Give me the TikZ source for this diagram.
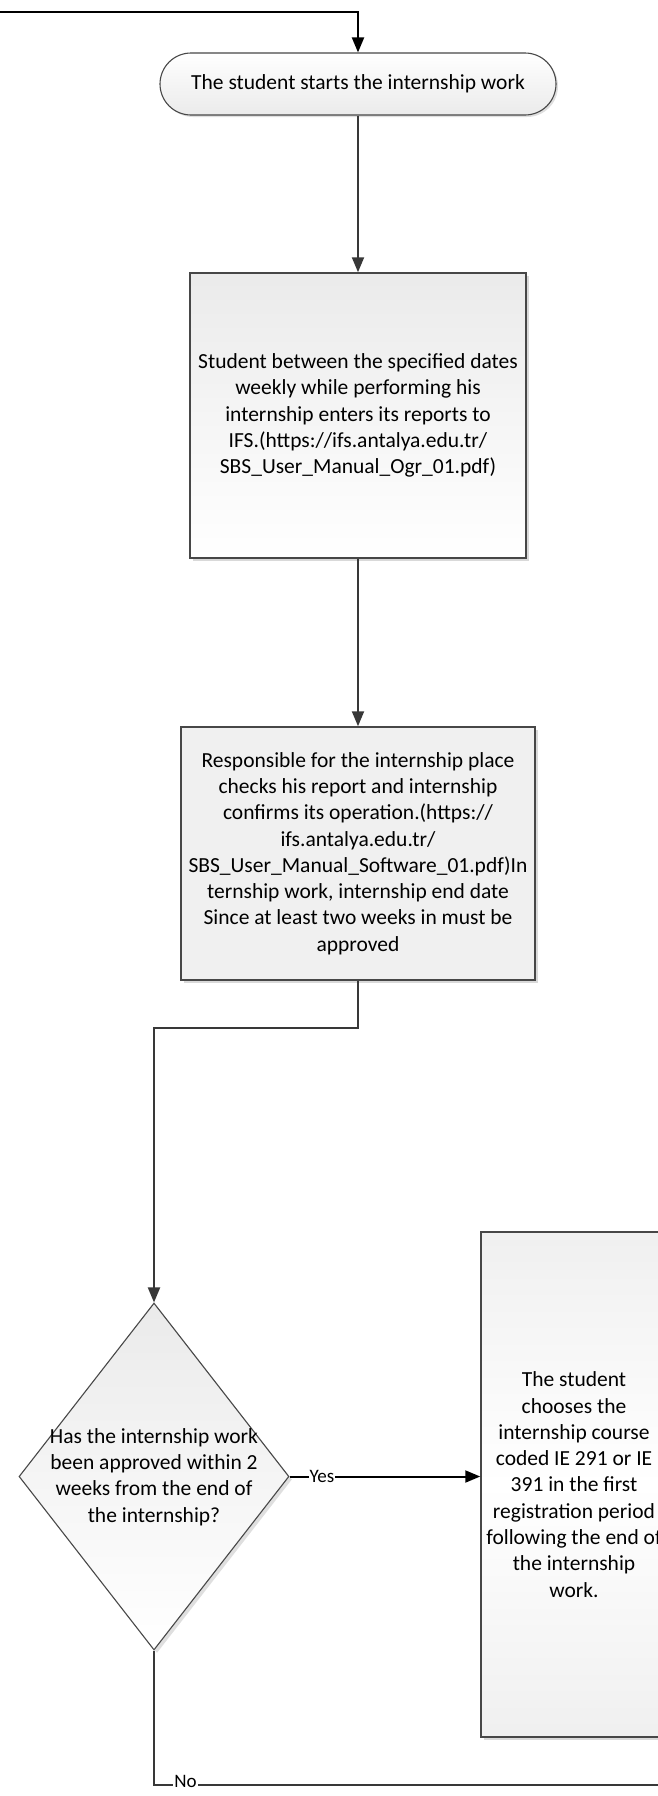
\documentclass[tikz,border=0pt]{standalone}
\usepackage{fontspec}
\setmainfont{Carlito}
\usetikzlibrary{shapes.geometric,arrows.meta,shadows}
\begin{document}
\begin{tikzpicture}[x=1pt,y=-1pt,
  txt/.style={align=center, inner sep=0pt, font=\fontsize{21.5}{26.3}\selectfont},
  procbox/.style={txt, rectangle, draw=black!72, line width=1.5pt,
     drop shadow={shadow xshift=3pt,shadow yshift=-3pt,fill=black!25,opacity=0.6}},
  termbox/.style={txt, rectangle, rounded corners=31pt, draw=black!72, line width=1.1pt,
     minimum width=396pt, minimum height=62pt, top color=white, bottom color=black!8,
     drop shadow={shadow xshift=2pt,shadow yshift=-2pt,fill=black!25,opacity=0.5}},
  decbox/.style={diamond, draw=black!72, line width=1.1pt, inner sep=0pt,
     minimum width=270pt, minimum height=347pt, top color=black!8, bottom color=white,
     drop shadow={shadow xshift=3pt,shadow yshift=-3pt,fill=black!25,opacity=0.5}},
  conn/.style={draw=black!78, line width=2pt, -{Triangle[length=15pt,width=12pt]}},
  line/.style={draw=black!78, line width=2pt},
  lab/.style={fill=white, inner sep=1pt, font=\fontsize{19}{21}\selectfont}
]
\useasboundingbox (0,0) rectangle (658,1796);

\coordinate (start) at (-10,11.5);
\node[termbox] (t) at (358,84) {The student starts the internship work};

\node[procbox, minimum width=336pt, minimum height=285pt, top color=black!8, bottom color=white] (b1) at (358,415.5)
 {Student between the specified dates\\ weekly while performing his\\ internship enters its reports to\\ IFS.(https://ifs.antalya.edu.tr/\\ SBS\_User\_Manual\_Ogr\_01.pdf)};

\node[procbox, minimum width=354pt, minimum height=253pt, top color=black!6, bottom color=black!6] (b2) at (358,853.5)
 {Responsible for the internship place\\ checks his report and internship\\ confirms its operation.(https://\\ ifs.antalya.edu.tr/\\ SBS\_User\_Manual\_Software\_01.pdf)In\\ ternship work, internship end date\\ Since at least two weeks in must be\\ approved};

\node[decbox] (d) at (154,1476.5) {};
\node[txt] (dt) at (154,1477) {Has the internship work\\ been approved within 2\\ weeks from the end of\\ the internship?};

\node[procbox, minimum width=186pt, minimum height=505pt, top color=black!6, bottom color=black!6, middle color=white] (b3) at (574,1484.5)
 {The student\\ chooses the\\ internship course\\ coded IE 291 or IE\\ 391 in the first\\ registration period\\ following the end of\\ the internship\\ work.};

\coordinate (noend) at (680,1785);

\draw[conn, draw=black] (start) -- (358,11.5) -- (t.north);
\draw[conn] (t.south) -- (b1.north);
\draw[conn] (b1.south) -- (b2.north);
\draw[conn] (b2.south) -- (358,1028) -- (154,1028) -- (d.north);
\draw[conn, draw=black] (d.east) -- node[lab, pos=0.17] {Yes} (b3.west |- d.east);
\draw[line] (d.south) -- (154,1785) -- node[lab, pos=0.06, yshift=4pt] {No} (noend);
\end{tikzpicture}
\end{document}
